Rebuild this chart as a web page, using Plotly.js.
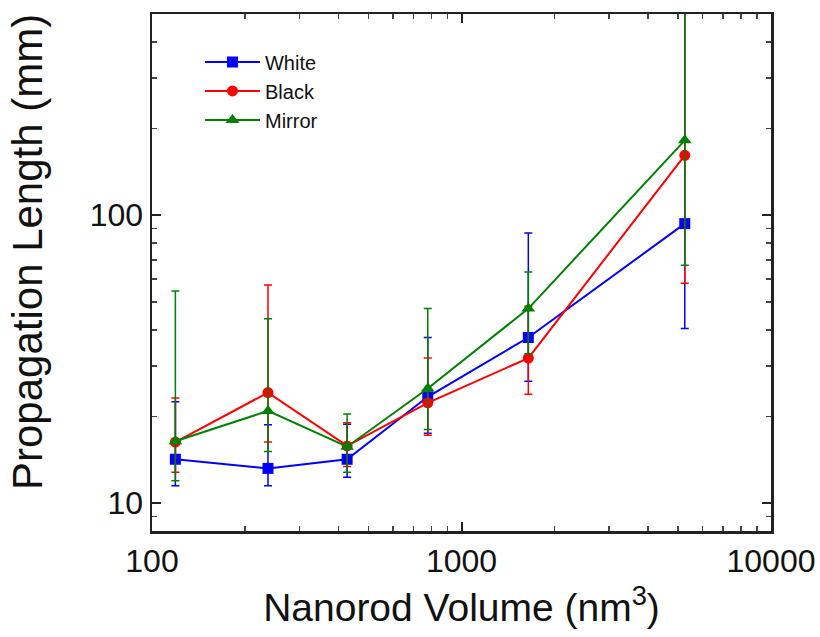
<!DOCTYPE html>
<html>
<head>
<meta charset="utf-8">
<script src="https://cdn.plot.ly/plotly-3.0.1.min.js"></script>
<style>html,body{margin:0;padding:0;background:#fff;}#chart{width:820px;height:637px;}</style>
</head>
<body>
<div id="chart"></div>
<script>
// Data
const volume = [119, 237, 427, 778, 1644, 5265];

const whiteY     = [14.2, 13.2, 14.2, 23.4, 37.6, 93.5];
const whiteUpper = [22.5, 18.7, 18.8, 37.6, 86.8, 550];
const whiteLower = [11.5, 11.5, 12.3, 17.5, 26.5, 40.4];

const blackY     = [16.3, 24.2, 15.8, 22.3, 31.9, 161.5];
const blackUpper = [23.2, 57.2, 19.0, 31.9, 48.3, 650];
const blackLower = [12.8, 16.3, 13.4, 17.2, 23.9, 58];

const mirrorY     = [16.4, 20.9, 15.7, 25.0, 47.4, 182];
const mirrorUpper = [54.6, 43.7, 20.4, 47.4, 63.5, 800];
const mirrorLower = [11.95, 15.1, 12.8, 18.0, 33, 67];

const xTickVals = [100, 1000, 10000];
const xTickText = ['100', '1000', '10000'];
const yTickVals = [10, 100];
const yTickText = ['10', '100'];

const xTitle = 'Nanorod Volume (nm<sup>3</sup>)';
const yTitle = 'Propagation Length (mm)';

function plus(y, up) { return y.map((v, i) => up[i] - v); }
function minus(y, lo) { return y.map((v, i) => v - lo[i]); }

function series(name, y, up, lo, color, symbol, size) {
  return {
    x: volume, y: y, name: name, type: 'scatter', mode: 'lines+markers',
    line: {color: color, width: 2},
    marker: {color: color, symbol: symbol, size: size},
    error_y: {type: 'data', symmetric: false, array: plus(y, up), arrayminus: minus(y, lo),
              color: color, thickness: 1.5, width: 4}
  };
}

const traces = [
  series('White', whiteY, whiteUpper, whiteLower, '#0000ff', 'square', 11),
  series('Black', blackY, blackUpper, blackLower, '#ff0000', 'circle', 11),
  series('Mirror', mirrorY, mirrorUpper, mirrorLower, '#008000', 'triangle-up', 12)
];

const FONT = 'Liberation Sans, Arial, sans-serif';

const axisCommon = {
  type: 'log', showline: true, linecolor: '#222', linewidth: 2.5, mirror: 'ticks',
  ticks: 'inside', ticklen: 9, tickwidth: 2, tickcolor: '#222',
  showgrid: false, zeroline: false,
  tickfont: {family: FONT, size: 32, color: '#111'},
  minor: {ticks: 'inside', ticklen: 5, tickwidth: 1.5, tickcolor: '#444', dtick: 'D1', showgrid: false}
};

const layout = {
  width: 820, height: 637,
  margin: {l: 152, r: 49, t: 14, b: 106},
  paper_bgcolor: '#fff', plot_bgcolor: '#fff',
  showlegend: true,
  legend: {x: 0.0775, y: 0.945, xanchor: 'left', yanchor: 'top', bgcolor: 'rgba(0,0,0,0)',
           itemwidth: 55,
           font: {family: FONT, size: 20, color: '#111'}},
  xaxis: Object.assign({}, axisCommon, {
    range: [2, 4], tickmode: 'array', tickvals: xTickVals, ticktext: xTickText,
    title: {text: xTitle, standoff: 16, font: {family: FONT, size: 39, color: '#111'}}
  }),
  yaxis: Object.assign({}, axisCommon, {
    range: [Math.log10(8), Math.log10(500)], tickmode: 'array', tickvals: yTickVals, ticktext: yTickText
  }),
  annotations: [{
    text: yTitle, xref: 'paper', yref: 'paper', x: -0.2, y: 0.54,
    xanchor: 'center', yanchor: 'middle', textangle: -90, showarrow: false,
    font: {family: FONT, size: 42, color: '#111'}
  }]
};

Plotly.newPlot('chart', traces, layout, {displayModeBar: false, staticPlot: true});
</script>
</body>
</html>
